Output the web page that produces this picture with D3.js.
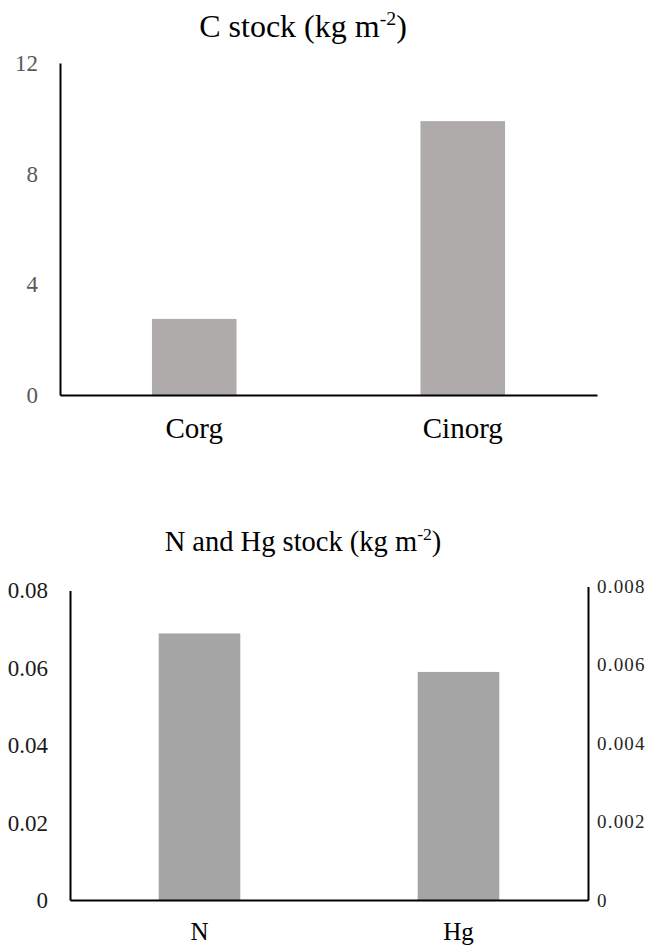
<!DOCTYPE html>
<html>
<head>
<meta charset="utf-8">
<script src="https://cdn.jsdelivr.net/npm/d3@7"></script>
<style>
  html, body { margin: 0; padding: 0; background: #fff; }
  svg { display: block; }
  svg text { font-family: "Liberation Serif", Tinos, "Times New Roman", Times, "DejaVu Serif", "Noto Serif", serif !important; }
</style>
</head>
<body>
<svg id="chart" width="656" height="947"></svg>
<script>
// ---- Data ----
const cCategories = ["Corg", "Cinorg"];
const cValues = [2.75, 9.9];
const cTicks = [0, 4, 8, 12];

const nhgCategories = ["N", "Hg"];
const nValue = [0.0689];          // left axis
const hgValue = [0.00582];        // right axis
const leftTicks = [0, 0.02, 0.04, 0.06, 0.08];
const rightTicks = [0, 0.002, 0.004, 0.006, 0.008];

const svg = d3.select("#chart");

function addTitle(g, x, y, size, main) {
  const t = g.append("text").attr("x", x).attr("y", y)
    .attr("text-anchor", "middle").attr("font-size", size).attr("fill", "#000");
  t.append("tspan").text(main);
  t.append("tspan").attr("font-size", size * 0.62).attr("dy", -size * 0.38).text("-2");
  t.append("tspan").attr("dy", size * 0.38).text(")");
}

// ---------- Top chart: C stock ----------
{
  const left = 60, right = 597, top = 63, bottom = 395;
  const x = d3.scaleBand().domain(cCategories).range([left, right])
    .paddingInner(0.685).paddingOuter(0.3425);
  const y = d3.scaleLinear().domain([0, 12]).range([bottom, top]);
  const g = svg.append("g");

  g.selectAll("rect.c").data(cCategories).join("rect")
    .attr("x", d => x(d)).attr("width", x.bandwidth())
    .attr("y", (d, i) => y(cValues[i]))
    .attr("height", (d, i) => y(0) - y(cValues[i]))
    .attr("fill", "#afabab");

  const ya = g.append("g").attr("transform", `translate(${left},0)`)
    .call(d3.axisLeft(y).tickValues(cTicks).tickSize(0).tickPadding(22).tickFormat(d3.format("d")));
  ya.attr("font-family", null);
  ya.select(".domain").attr("stroke", "#000").attr("stroke-width", 2);
  ya.selectAll("text").attr("font-size", 23).attr("fill", "#595959");

  const xa = g.append("g").attr("transform", `translate(0,${bottom})`)
    .call(d3.axisBottom(x).tickSize(0).tickPadding(22));
  xa.attr("font-family", null);
  xa.select(".domain").attr("stroke", "#000").attr("stroke-width", 2);
  xa.selectAll("text").attr("font-size", 29).attr("fill", "#000");

  addTitle(g, 303, 37, 32, "C stock (kg m");
}

// ---------- Bottom chart: N and Hg stock ----------
{
  const left = 70, right = 588, bottom = 900;
  const yL = d3.scaleLinear().domain([0, 0.08]).range([bottom, 590.5]);
  const yR = d3.scaleLinear().domain([0, 0.008]).range([bottom, 586.5]);
  const x = d3.scaleBand().domain(nhgCategories).range([left, right])
    .paddingInner(0.685).paddingOuter(0.3425);
  const g = svg.append("g");

  g.append("rect").datum(nhgCategories[0])
    .attr("x", d => x(d)).attr("width", x.bandwidth())
    .attr("y", yL(nValue[0])).attr("height", yL(0) - yL(nValue[0]))
    .attr("fill", "#a5a5a5");
  g.append("rect").datum(nhgCategories[1])
    .attr("x", d => x(d)).attr("width", x.bandwidth())
    .attr("y", yR(hgValue[0])).attr("height", yR(0) - yR(hgValue[0]))
    .attr("fill", "#a5a5a5");

  const la = g.append("g").attr("transform", `translate(${left},0)`)
    .call(d3.axisLeft(yL).tickValues(leftTicks).tickSize(0).tickPadding(22)
      .tickFormat(d => d === 0 ? "0" : d3.format(".2f")(d)));
  la.attr("font-family", null);
  la.select(".domain").attr("stroke", "#000").attr("stroke-width", 2);
  la.selectAll("text").attr("font-size", 23).attr("fill", "#1a1a1a");

  const ra = g.append("g").attr("transform", `translate(${right},0)`)
    .call(d3.axisRight(yR).tickValues(rightTicks).tickSize(0).tickPadding(9)
      .tickFormat(d => d === 0 ? "0" : d3.format(".3f")(d)));
  ra.attr("font-family", null);
  ra.select(".domain").attr("stroke", "#000").attr("stroke-width", 2);
  ra.selectAll("text").attr("font-size", 19).attr("fill", "#262626")
    .attr("letter-spacing", 1.2);

  const xa = g.append("g").attr("transform", `translate(0,${bottom})`)
    .call(d3.axisBottom(x).tickSize(0).tickPadding(22));
  xa.attr("font-family", null);
  xa.select(".domain").attr("stroke", "#000").attr("stroke-width", 2);
  xa.selectAll("text").attr("font-size", 25).attr("fill", "#000");

  addTitle(g, 303, 551, 28.5, "N and Hg stock (kg m");
}
</script>
</body>
</html>
